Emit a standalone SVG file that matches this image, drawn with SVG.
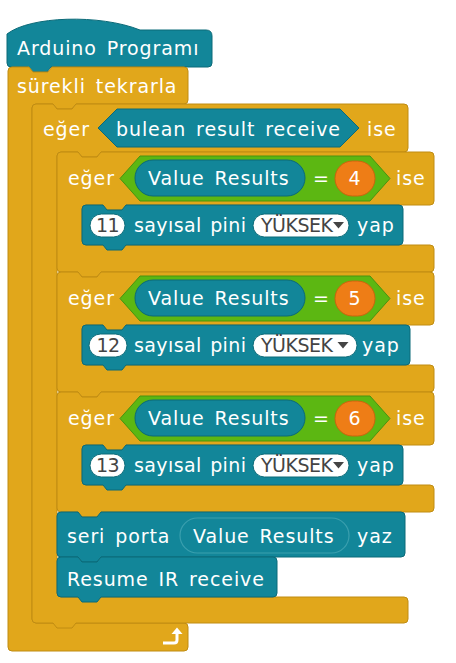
<svg xmlns="http://www.w3.org/2000/svg" xmlns:xlink="http://www.w3.org/1999/xlink" width="456" height="663" viewBox="0 0 456 663">
<style>
.gold{fill:#E1A71B;stroke:#C08C12;stroke-width:1}
.teal{fill:#128699;stroke:#0B6A78;stroke-width:1}
.green{fill:#5CB712;stroke:#489310;stroke-width:1}
.orange{fill:#EE7D16;stroke:#C9650D;stroke-width:1}
.pill{fill:#FFFFFF;stroke:#0B6A78;stroke-width:1}
.rep{fill:#128699;stroke:#3A9FAE;stroke-width:1.2}
text{font-family:"DejaVu Sans","Liberation Sans",sans-serif;font-size:19px;letter-spacing:0.9px;word-spacing:3px;fill:#FFFFFF}
text.dk{fill:#444444;font-size:19px;letter-spacing:-0.5px}
text.num{text-anchor:middle}
text.sp{letter-spacing:0.4px;word-spacing:2px}
.tri{fill:#444444}
</style>
<defs>
<path id="ifShape" d="M57,4 Q57,0 61,0 L78,0 L82,5 L97,5 L101,0 L430,0 Q434,0 434,4 L434,49 Q434,53 430,53 L126,53 L122,58 L107,58 L103,53 L86,53 Q82,53 82,57 L82,89 Q82,93 86,93 L430,93 Q434,93 434,97 L434,116 Q434,120 430,120 L101,120 L97,125 L82,125 L78,120 L61,120 Q57,120 57,116 Z"/>
<path id="pinShape" d="M82,57 Q82,53 86,53 L103,53 L107,58 L122,58 L126,53 L399,53 Q403,53 403,57 L403,89 Q403,93 399,93 L126,93 L122,98 L107,98 L103,93 L86,93 Q82,93 82,89 Z"/>
<polygon id="condHex" points="120,26.5 140,4 370,4 390,26.5 370,49 140,49"/>
</defs>

<g id="hat">
<path class="teal" d="M7,34 C30,16 100,14 140,30 L206,30 Q212,30 212,36 L212,63 Q212,67 208,67 L51,67 L47,72 L32,72 L28,67 L11,67 Q7,67 7,63 Z"/>
<text x="17" y="55">Arduino Programı</text>
</g>

<g id="forever">
<path class="gold" d="M8,71 Q8,67 12,67 L29,67 L33,72 L48,72 L52,67 L184,67 Q188,67 188,71 L188,100 Q188,104 184,104 L76,104 L72,109 L57,109 L53,104 L36,104 Q32,104 32,108 L32,619 Q32,623 36,623 L184,623 Q188,623 188,627 L188,647 Q188,651 184,651 L12,651 Q8,651 8,647 Z"/>
<text x="17" y="93">sürekli tekrarla</text>
<path d="M163,643 L174,643 Q177,643 177,640 L177,633" fill="none" stroke="#FFFFFF" stroke-width="3"/>
<polygon points="171.5,634 177,627.5 182.5,634" fill="#FFFFFF"/>
</g>

<g id="if_outer">
<path class="gold" d="M32,108 Q32,104 36,104 L53,104 L57,109 L72,109 L76,104 L404,104 Q408,104 408,108 L408,148 Q408,152 404,152 L101,152 L97,157 L82,157 L78,152 L61,152 Q57,152 57,156 L57,593 Q57,597 61,597 L404,597 Q408,597 408,601 L408,619 Q408,623 404,623 L76,623 L72,628 L57,628 L53,623 L36,623 Q32,623 32,619 Z"/>
<text x="43" y="136">eğer</text>
<polygon class="teal" points="98,128 117,109 340,109 359,128 340,147 117,147"/>
<text x="116" y="136">bulean result receive</text>
<text x="367" y="136">ise</text>
</g>

<g id="if1" transform="translate(0,152)">
<use xlink:href="#ifShape" class="gold"/>
<text x="68" y="33">eğer</text>
<use xlink:href="#condHex" class="green"/>
<rect class="teal" x="135" y="8" width="170" height="36" rx="18"/>
<text x="148" y="33">Value Results</text>
<text x="313" y="33">=</text>
<rect class="orange" x="335" y="9" width="40" height="35" rx="17.5"/>
<text class="num" x="355" y="33">4</text>
<text x="396" y="33">ise</text>
<g id="pin11">
<use xlink:href="#pinShape" class="teal"/>
<rect class="pill" x="90" y="62" width="35" height="23" rx="11.5"/>
<text class="dk num" x="107.5" y="80">11</text>
<text class="sp" x="134" y="80">sayısal pini</text>
<rect class="pill" x="253" y="62" width="96" height="23" rx="11.5"/>
<text class="dk" x="261" y="80">YÜKSEK</text>
<polygon class="tri" points="333,70 344,70 338.5,76.5"/>
<text x="357" y="80">yap</text>
</g>
</g>

<g id="if2" transform="translate(0,272)">
<use xlink:href="#ifShape" class="gold"/>
<text x="68" y="33">eğer</text>
<use xlink:href="#condHex" class="green"/>
<rect class="teal" x="135" y="8" width="170" height="36" rx="18"/>
<text x="148" y="33">Value Results</text>
<text x="313" y="33">=</text>
<rect class="orange" x="335" y="9" width="40" height="35" rx="17.5"/>
<text class="num" x="355" y="33">5</text>
<text x="396" y="33">ise</text>
<g id="pin12">
<path class="teal" d="M82,57 Q82,53 86,53 L103,53 L107,58 L122,58 L126,53 L406,53 Q410,53 410,57 L410,89 Q410,93 406,93 L126,93 L122,98 L107,98 L103,93 L86,93 Q82,93 82,89 Z"/>
<rect class="pill" x="89" y="62" width="38" height="23" rx="11.5"/>
<text class="dk num" x="108" y="80">12</text>
<text class="sp" x="134" y="80">sayısal pini</text>
<rect class="pill" x="253" y="62" width="104" height="23" rx="11.5"/>
<text class="dk" x="261" y="80">YÜKSEK</text>
<polygon class="tri" points="337.5,70 348.5,70 343,76.5"/>
<text x="362" y="80">yap</text>
</g>
</g>

<g id="if3" transform="translate(0,392)">
<use xlink:href="#ifShape" class="gold"/>
<text x="68" y="33">eğer</text>
<use xlink:href="#condHex" class="green"/>
<rect class="teal" x="135" y="8" width="170" height="36" rx="18"/>
<text x="148" y="33">Value Results</text>
<text x="313" y="33">=</text>
<rect class="orange" x="335" y="9" width="40" height="35" rx="17.5"/>
<text class="num" x="355" y="33">6</text>
<text x="396" y="33">ise</text>
<g id="pin13">
<use xlink:href="#pinShape" class="teal"/>
<rect class="pill" x="90" y="62" width="35" height="23" rx="11.5"/>
<text class="dk num" x="107.5" y="80">13</text>
<text class="sp" x="134" y="80">sayısal pini</text>
<rect class="pill" x="253" y="62" width="96" height="23" rx="11.5"/>
<text class="dk" x="261" y="80">YÜKSEK</text>
<polygon class="tri" points="333,70 344,70 338.5,76.5"/>
<text x="357" y="80">yap</text>
</g>
</g>

<g id="serial">
<path class="teal" d="M57,516 Q57,512 61,512 L78,512 L82,517 L97,517 L101,512 L401,512 Q405,512 405,516 L405,553 Q405,557 401,557 L101,557 L97,562 L82,562 L78,557 L61,557 Q57,557 57,553 Z"/>
<text x="67" y="543">seri porta</text>
<rect class="rep" x="180" y="518" width="169" height="35" rx="17.5"/>
<text x="193" y="543">Value Results</text>
<text x="357" y="543">yaz</text>
</g>

<g id="resume">
<path class="teal" d="M57,561 Q57,557 61,557 L78,557 L82,562 L97,562 L101,557 L273,557 Q277,557 277,561 L277,593 Q277,597 273,597 L101,597 L97,602 L82,602 L78,597 L61,597 Q57,597 57,593 Z"/>
<text x="67" y="586">Resume IR receive</text>
</g>

<g id="connectors"></g>
</svg>
